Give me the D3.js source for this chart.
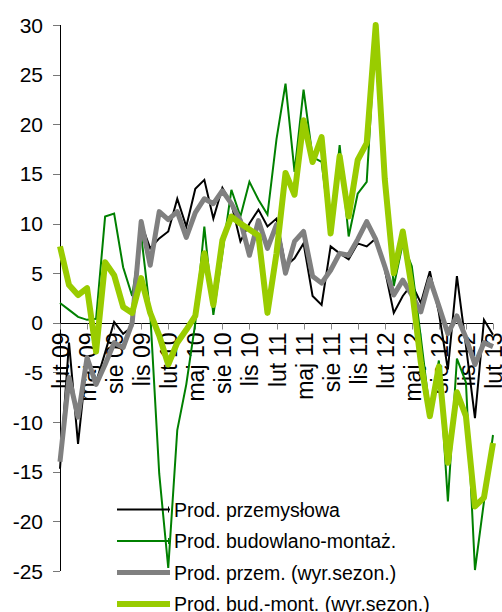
<!DOCTYPE html>
<html>
<head>
<meta charset="utf-8">
<script src="https://cdn.jsdelivr.net/npm/d3@7"></script>
<style>
  body { margin: 0; background: #fff; }
  svg { display: block; font-family: "Liberation Sans", Arial, sans-serif; }
</style>
</head>
<body>
<script>
// months lut 09 .. lut 13
const monthNames = ["sty","lut","mar","kwi","maj","cze","lip","sie","wrz","paź","lis","gru"]
const months = []
for (let k = 0; k < 49; k++) {
  let m = (1 + k) % 12
  let yr = 9 + Math.floor((1 + k) / 12)
  months.push(monthNames[m] + " " + String(yr).padStart(2, "0"))
}
const yTicks = [-25, -20, -15, -10, -5, 0, 5, 10, 15, 20, 25, 30]

const przem = [-14.7,-2.0,-12.2,-3.5,-6.0,-3.0,0.1,-1.1,-0.4,10.0,7.5,8.5,9.2,12.5,9.7,13.5,14.4,10.5,13.6,12.0,8.2,10.0,11.4,9.7,10.5,5.7,6.5,8.0,2.7,1.8,7.7,7.0,6.4,8.0,7.7,8.5,5.4,1.0,2.7,3.9,2.0,5.2,1.0,-4.7,4.7,-2.3,-9.6,0.3,-1.2]
const bud = [2.0,1.3,0.6,0.3,0.4,10.7,11.0,5.6,2.7,8.8,1.0,-15.2,-24.7,-10.8,-6.2,0.0,9.7,0.8,7.0,13.4,10.7,14.2,12.4,10.9,18.5,24.1,15.2,23.5,16.7,16.2,8.8,17.9,8.7,13.0,14.2,29.5,14.0,3.7,8.0,5.7,-1.5,-9.0,-3.8,-18.0,-3.6,-6.0,-24.9,-18.0,-11.3]
const przemSez = [-14.0,-5.5,-9.5,-3.5,-6.2,-4.2,-2.0,-2.5,0.0,10.2,5.8,11.2,10.4,11.2,8.6,11.1,12.5,12.0,13.3,12.0,10.3,6.8,10.3,7.5,9.9,5.0,8.2,9.2,4.7,4.0,5.3,7.0,6.8,8.4,10.2,8.4,5.7,2.8,4.3,2.8,1.1,4.4,1.7,-1.1,0.7,-1.5,-4.2,-2.0,-2.4]
const budSez = [7.7,3.8,2.8,3.5,-2.9,6.1,4.8,1.6,1.0,4.5,1.0,-1.3,-4.2,-2.0,-0.7,0.7,7.0,1.8,8.3,10.7,10.0,9.4,8.8,1.0,7.0,15.1,12.9,20.4,16.2,18.7,9.0,16.8,10.7,16.4,18.1,30.0,14.5,5.0,9.2,3.5,-4.0,-9.4,-4.4,-14.1,-7.0,-9.4,-18.5,-17.6,-12.1]

const seriesNames = ["Prod. przemysłowa", "Prod. budowlano-montaż.", "Prod. przem. (wyr.sezon.)", "Prod. bud.-mont. (wyr.sezon.)"]
const seriesData = [przem, bud, przemSez, budSez]
const colors = ["#000000", "#008000", "#808080", "#99cc00"]
const widths = [2, 2, 5, 6]

const W = 502, H = 612
const svg = d3.select("body").append("svg").attr("width", W).attr("height", H)

const x = d3.scalePoint().domain(months).range([60, 493])
const y = d3.scaleLinear().domain([-25, 30]).range([571, 25])

// y axis
svg.append("line")
  .attr("x1", 60.5).attr("x2", 60.5)
  .attr("y1", y(30)).attr("y2", y(-25))
  .attr("stroke", "#000").attr("stroke-width", 1)
svg.selectAll(".ytick").data(yTicks).enter().append("line")
  .attr("x1", 53).attr("x2", 60)
  .attr("y1", d => Math.round(y(d)) + 0.5).attr("y2", d => Math.round(y(d)) + 0.5)
  .attr("stroke", "#777")
svg.selectAll(".ylab").data(yTicks).enter().append("text")
  .attr("x", 43)
  .attr("y", d => y(d))
  .attr("dy", "0.36em")
  .attr("text-anchor", "end")
  .attr("font-size", "21px")
  .attr("fill", "#000")
  .text(d => d)

// x axis at zero
const y0 = Math.round(y(0)) + 0.5
svg.append("line")
  .attr("x1", 60).attr("x2", 493)
  .attr("y1", y0).attr("y2", y0)
  .attr("stroke", "#000")
const shown = months.filter((m, k) => k % 3 == 0)
svg.selectAll(".xtick").data(shown).enter().append("line")
  .attr("x1", d => Math.round(x(d)) + 0.5).attr("x2", d => Math.round(x(d)) + 0.5)
  .attr("y1", y0).attr("y2", y0 + 6)
  .attr("stroke", "#888")
svg.selectAll(".xlab").data(shown).enter().append("text")
  .attr("transform", d => "translate(" + x(d) + "," + (y0 + 9) + ") rotate(-90)")
  .attr("y", 9)
  .attr("text-anchor", "end")
  .attr("font-size", "23px")
  .attr("fill", "#000")
  .text(d => d)

// lines
const line = d3.line()
  .x((d, k) => x(months[k]))
  .y(d => y(d))

seriesData.forEach((s, k) => {
  svg.append("path")
    .datum(s)
    .attr("fill", "none")
    .attr("stroke", colors[k])
    .attr("stroke-width", widths[k])
    .attr("stroke-linejoin", k < 2 ? "miter" : "round")
    .attr("d", line)
})

// legend
const legY = [509.5, 541, 572.5, 604]
seriesNames.forEach((name, k) => {
  const g = svg.append("g")
  g.append("line")
    .attr("x1", 117).attr("x2", 170)
    .attr("y1", legY[k]).attr("y2", legY[k])
    .attr("stroke", colors[k]).attr("stroke-width", widths[k])
  if (k < 2) {
    g.append("line")
      .attr("x1", 168.5).attr("x2", 168.5)
      .attr("y1", legY[k] - 3).attr("y2", legY[k] + 3)
      .attr("stroke", colors[k]).attr("stroke-width", 1)
  }
  g.append("text")
    .attr("x", 174).attr("y", legY[k])
    .attr("dy", "0.36em")
    .attr("font-size", "19.5px")
    .attr("fill", "#000")
    .text(name)
})
</script>
</body>
</html>
